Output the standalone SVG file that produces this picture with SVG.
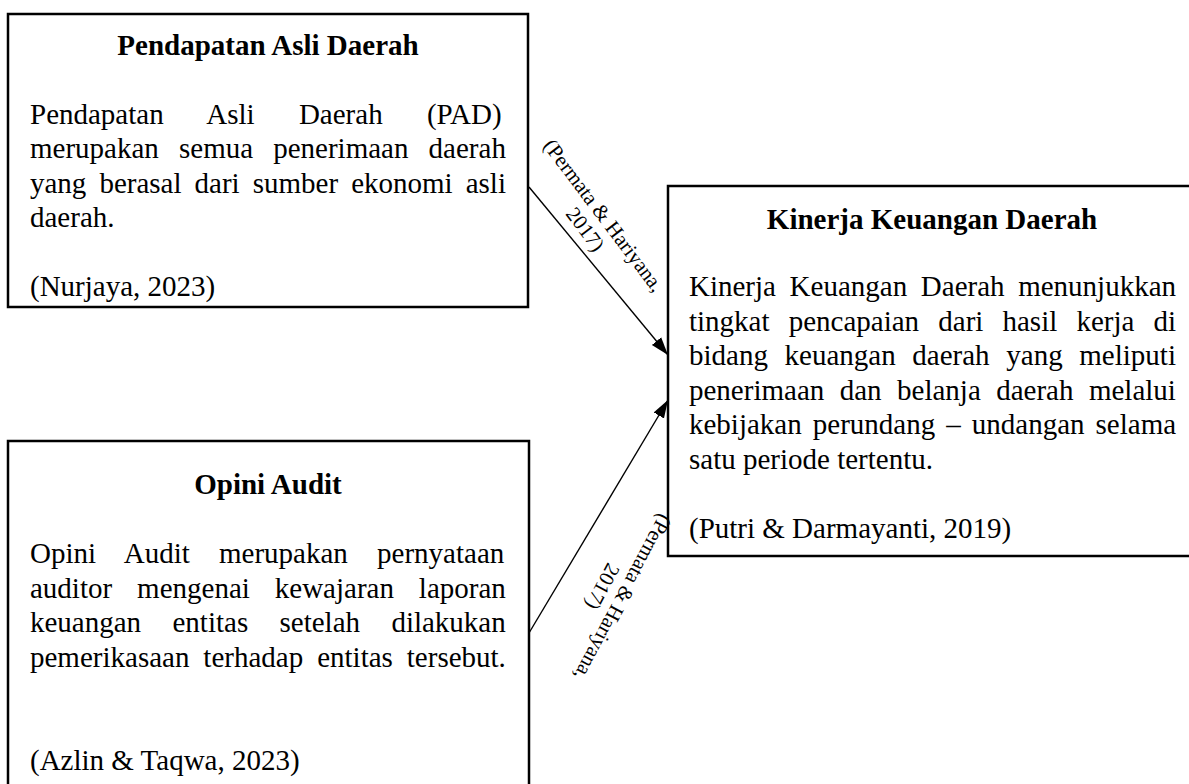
<svg xmlns="http://www.w3.org/2000/svg" width="1189" height="784" viewBox="0 0 1189 784">
<style>
.box{fill:#fff;stroke:#000;stroke-width:2.5}
.t{font-family:"Liberation Serif","Times New Roman",serif;font-size:29px;fill:#000}
.b{font-weight:bold;text-anchor:middle}
.lbl{font-family:"Liberation Serif","Times New Roman",serif;font-size:21px;fill:#000;text-anchor:middle}
.con{stroke:#000;stroke-width:1.4;fill:none}
</style>
<defs>
<marker id="ah" markerUnits="userSpaceOnUse" markerWidth="20" markerHeight="14" refX="18" refY="7" orient="auto">
<path d="M0,1 L18,7 L0,13 z" fill="#000"/>
</marker>
</defs>
<rect width="1189" height="784" fill="#fff"/>
<g id="node-pad">
<rect class="box" x="8" y="14" width="520" height="293"/>
<text class="t b" x="268" y="55">Pendapatan Asli Daerah</text>
<text class="t" x="30" y="123.5" word-spacing="37">Pendapatan Asli Daerah (PAD)</text>
<text class="t" x="30" y="158" word-spacing="12.9">merupakan semua penerimaan daerah</text>
<text class="t" x="30" y="192.5" word-spacing="5.8">yang berasal dari sumber ekonomi asli</text>
<text class="t" x="30" y="227">daerah.</text>
<text class="t" x="30" y="296">(Nurjaya, 2023)</text>
</g>
<g id="node-kinerja">
<rect class="box" x="668" y="186" width="532" height="370"/>
<text class="t b" x="932" y="228.5">Kinerja Keuangan Daerah</text>
<text class="t" x="689" y="296" word-spacing="6.4">Kinerja Keuangan Daerah menunjukkan</text>
<text class="t" x="689" y="330.5" word-spacing="11.9">tingkat pencapaian dari hasil kerja di</text>
<text class="t" x="689" y="365" word-spacing="9.4">bidang keuangan daerah yang meliputi</text>
<text class="t" x="689" y="399.5" word-spacing="8.2">penerimaan dan belanja daerah melalui</text>
<text class="t" x="689" y="434" word-spacing="3.8">kebijakan perundang – undangan selama</text>
<text class="t" x="689" y="468.5">satu periode tertentu.</text>
<text class="t" x="689" y="537.5">(Putri &amp; Darmayanti, 2019)</text>
</g>
<g id="node-opini">
<rect class="box" x="8" y="441" width="521" height="360"/>
<text class="t b" x="268" y="494">Opini Audit</text>
<text class="t" x="30" y="563" word-spacing="22">Opini Audit merupakan pernyataan</text>
<text class="t" x="30" y="597.5" word-spacing="17.7">auditor mengenai kewajaran laporan</text>
<text class="t" x="30" y="632" word-spacing="24.1">keuangan entitas setelah dilakukan</text>
<text class="t" x="30" y="666.5" word-spacing="6.7">pemerikasaan terhadap entitas tersebut.</text>
<text class="t" x="30" y="770">(Azlin &amp; Taqwa, 2023)</text>
</g>
<g id="connectors">
<line class="con" x1="529" y1="187" x2="668" y2="355" marker-end="url(#ah)"/>
<line class="con" x1="529" y1="633" x2="668" y2="400" marker-end="url(#ah)"/>
<text class="lbl" transform="translate(603,216) rotate(53)"><tspan x="0" y="6">(Permata &amp; Hariyana,</tspan><tspan x="0" y="29">2017)</tspan></text>
<text class="lbl" transform="translate(622,597) rotate(118)"><tspan x="0" y="6">(Permata &amp; Hariyana,</tspan><tspan x="0" y="29">2017)</tspan></text>
</g>
</svg>
